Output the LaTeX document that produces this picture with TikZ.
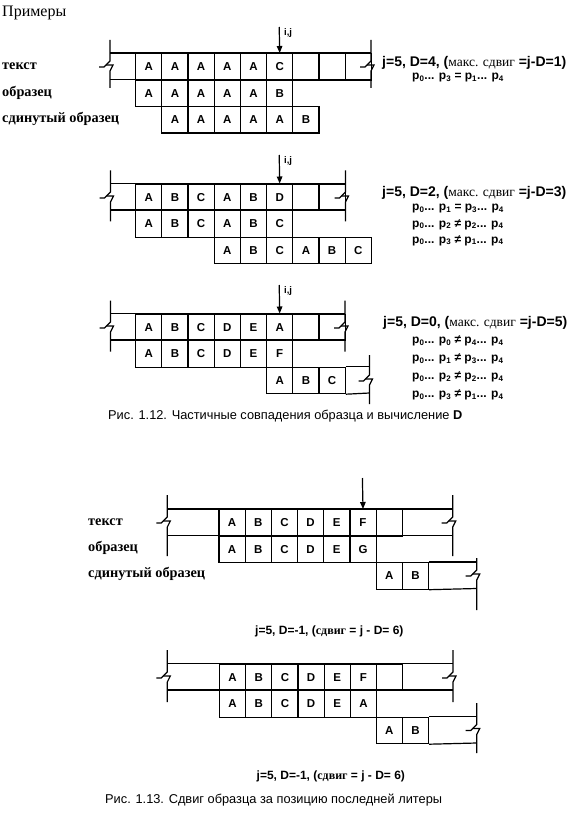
\documentclass[tikz,border=0pt]{standalone}
\usepackage{fontspec}
\setmainfont{Liberation Serif}
\newfontfamily\arialfont{Liberation Sans}
\usetikzlibrary{arrows.meta}

\newcommand{\ps}[1]{p\textsubscript{#1}}
% break mark on a vertical end bar: x, top, middle, bottom
\newcommand{\breakbar}[4]{%
  \draw[frame] (#1,#2) -- (#1,#3-5) -- (#1-6,#3+1) -- (#1-11,#3+1);
  \draw[frame] (#1-4,#3-1) -- (#1+3,#3-1) -- (#1,#3+5) -- (#1,#4);}

\tikzset{
  frame/.style={line width=1.2pt},
  cell/.style={draw, line width=1.2pt, minimum width=26.2pt, minimum height=26.5pt,
    inner sep=0pt, anchor=north west, font=\arialfont\bfseries\fontsize{11.5}{13}\selectfont},
  rowlabel/.style={anchor=west, inner sep=0pt, font=\bfseries\fontsize{14.3}{16}\selectfont},
  note/.style={anchor=west, inner sep=0pt, font=\arialfont\bfseries\fontsize{12}{14}\selectfont},
  jnote/.style={anchor=west, inner sep=0pt, font=\arialfont\bfseries\fontsize{14}{16}\selectfont},
  ijnote/.style={anchor=west, inner sep=0pt, font=\arialfont\bfseries\fontsize{9.5}{10}\selectfont},
  caption/.style={anchor=west, inner sep=0pt, font=\arialfont\fontsize{12.8}{14}\selectfont},
  shiftnote/.style={anchor=west, inner sep=0pt, font=\arialfont\bfseries\fontsize{12}{14}\selectfont},
  pointer/.style={frame, -{Triangle[length=7pt,width=5.5pt]}},
}
\newcommand{\maks}{{\mdseries\rmfamily\fontsize{13.5}{15}\selectfont макс. сдвиг}}

\begin{document}
\begin{tikzpicture}[x=1pt,y=-1pt]
  \useasboundingbox (0,0) rectangle (573,818);

  \node[anchor=west, inner sep=0pt, font=\fontsize{16}{18}\selectfont] (title) at (2,13) {Примеры};

  % ---------- example 1 ----------
  \node[rowlabel] (lt1) at (2,66) {текст};
  \node[rowlabel] (lp1) at (2,93) {образец};
  \node[rowlabel] (ls1) at (2,119) {сдинутый образец};
  \draw[frame] (110,53) -- (371,53);
  \draw[frame] (110,79.5) -- (371,79.5);
  \breakbar{110}{40}{66}{88}
  \breakbar{371}{40}{66}{88}
  \foreach \l [count=\i from 0] in {A,A,A,A,A,C,{},{},{}}
    \node[cell] (ta-\i) at ({135+26.2*\i},53) {\l};
  \foreach \l [count=\i from 0] in {A,A,A,A,A,B}
    \node[cell] (pa-\i) at ({135+26.2*\i},79.5) {\l};
  \foreach \l [count=\i from 0] in {A,A,A,A,A,B}
    \node[cell] (sa-\i) at ({161.2+26.2*\i},106) {\l};
  \coordinate (ija) at (279.2,27);
  \draw[pointer] (ija) -- (ta-5.north);
  \node[ijnote] (ija-l) at (284,33) {i,j};
  \node[jnote] (ja) at (382,62.5) {j=5, D=4, (\maks{} =j-D=1)};
  \node[note] (pa1) at (412,77.5) {\ps0... \ps3 = \ps1... \ps4};

  % ---------- example 2 ----------
  \draw[frame] (110.5,183.5) -- (345.5,183.5);
  \draw[frame] (110.5,210) -- (345.5,210);
  \breakbar{110.5}{170.5}{197}{221.5}
  \breakbar{345.5}{170.5}{197}{221.5}
  \foreach \l [count=\i from 0] in {A,B,C,A,B,D,{},{}}
    \node[cell] (tb-\i) at ({135+26.2*\i},183.5) {\l};
  \foreach \l [count=\i from 0] in {A,B,C,A,B,C}
    \node[cell] (pb-\i) at ({135+26.2*\i},210) {\l};
  \foreach \l [count=\i from 0] in {A,B,C,A,B,C}
    \node[cell] (sb-\i) at ({213.6+26.2*\i},236.5) {\l};
  \coordinate (ijb) at (279.2,155);
  \draw[pointer] (ijb) -- (tb-5.north);
  \node[ijnote] (ijb-l) at (284,161) {i,j};
  \node[jnote] (jb) at (382,192.5) {j=5, D=2, (\maks{} =j-D=3)};
  \node[note] (pb1) at (412,208.5) {\ps0... \ps1 = \ps3... \ps4};
  \node[note] (pb2) at (412,224.5) {\ps0... \ps2 ≠ \ps2... \ps4};
  \node[note] (pb3) at (412,240.5) {\ps0... \ps3 ≠ \ps1... \ps4};

  % ---------- example 3 ----------
  \draw[frame] (110.5,313.5) -- (345,313.5);
  \draw[frame] (110.5,340) -- (345,340);
  \breakbar{110.5}{300.5}{327}{351.5}
  \breakbar{345}{300.5}{327}{351.5}
  \foreach \l [count=\i from 0] in {A,B,C,D,E,A,{},{}}
    \node[cell] (tc-\i) at ({135+26.2*\i},313.5) {\l};
  \foreach \l [count=\i from 0] in {A,B,C,D,E,F}
    \node[cell] (pc-\i) at ({135+26.2*\i},340) {\l};
  \foreach \l [count=\i from 0] in {A,B,C}
    \node[cell] (sc-\i) at ({266+26.2*\i},366.5) {\l};
  \draw[frame] (sc-2.north east) -- (369.5,366.5);
  \draw[frame] (sc-2.south east) -- (369.5,393);
  \breakbar{369.5}{355}{380}{404}
  \coordinate (ijc) at (279.2,285);
  \draw[pointer] (ijc) -- (tc-5.north);
  \node[ijnote] (ijc-l) at (284,291) {i,j};
  \node[jnote] (jc) at (383,322.5) {j=5, D=0, (\maks{} =j-D=5)};
  \node[note] (pc1) at (412,341) {\ps0... \ps0 ≠ \ps4... \ps4};
  \node[note] (pc2) at (412,359) {\ps0... \ps1 ≠ \ps3... \ps4};
  \node[note] (pc3) at (412,377) {\ps0... \ps2 ≠ \ps2... \ps4};
  \node[note] (pc4) at (412,395) {\ps0... \ps3 ≠ \ps1... \ps4};

  \node[caption] (cap12) at (108,416.5) {Рис. 1.12. Частичные совпадения образца и вычисление \textbf{D}};

  % ---------- figure 1.13, top ----------
  \node[rowlabel] (ld1) at (88,522) {текст};
  \node[rowlabel] (ld2) at (88,548) {образец};
  \node[rowlabel] (ld3) at (88,574) {сдинутый образец};
  \draw[frame] (167.3,509) -- (452.7,509);
  \draw[frame] (167.3,535.5) -- (452.7,535.5);
  \breakbar{167.3}{495}{522}{556}
  \breakbar{452.7}{495}{522}{556}
  \foreach \l [count=\i from 0] in {A,B,C,D,E,F,{}}
    \node[cell] (td-\i) at ({218.3+26.2*\i},509) {\l};
  \foreach \l [count=\i from 0] in {A,B,C,D,E,G}
    \node[cell] (pd-\i) at ({218.3+26.2*\i},535.5) {\l};
  \foreach \l [count=\i from 0] in {A,B}
    \node[cell] (sd-\i) at ({375.5+26.2*\i},562) {\l};
  \draw[frame] (sd-1.north east) -- (476.7,562);
  \draw[frame] (sd-1.south east) -- (476.7,588.5);
  \breakbar{476.7}{558}{575}{610}
  \coordinate (ijd) at (362.4,478);
  \draw[pointer] (ijd) -- (td-5.north);
  \node[shiftnote] (jd) at (255,631) {j=5, D=-1, ({\rmfamily сдвиг} = j - D= 6)};

  % ---------- figure 1.13, bottom ----------
  \draw[frame] (167.3,663.5) -- (453,663.5);
  \draw[frame] (167.3,690) -- (453,690);
  \breakbar{167.3}{650}{677}{702}
  \breakbar{453}{650}{677}{702}
  \foreach \l [count=\i from 0] in {A,B,C,D,E,F,{}}
    \node[cell] (te-\i) at ({218.8+26.2*\i},663.5) {\l};
  \foreach \l [count=\i from 0] in {A,B,C,D,E,A}
    \node[cell] (pe-\i) at ({218.8+26.2*\i},690) {\l};
  \foreach \l [count=\i from 0] in {A,B}
    \node[cell] (se-\i) at ({375.5+26.2*\i},716.5) {\l};
  \draw[frame] (se-1.north east) -- (476.7,716.5);
  \draw[frame] (se-1.south east) -- (476.7,743);
  \breakbar{476.7}{703}{729.5}{753}
  \node[shiftnote] (je) at (256.5,776.5) {j=5, D=-1, ({\rmfamily сдвиг} = j - D= 6)};

  \node[caption] (cap13) at (105,800.5) {Рис. 1.13. Сдвиг образца за позицию последней литеры};
\end{tikzpicture}
\end{document}
